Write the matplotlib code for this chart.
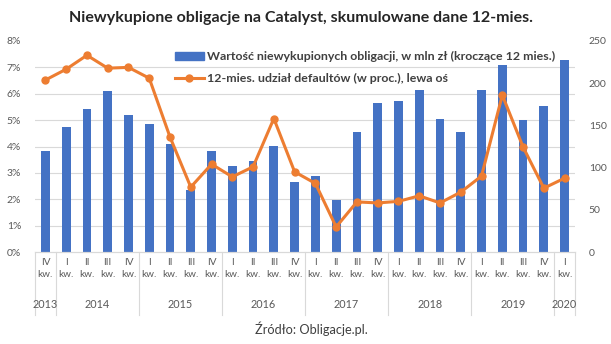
import matplotlib.pyplot as plt
import numpy as np
from matplotlib.ticker import FixedLocator, FuncFormatter
from matplotlib.lines import Line2D
from matplotlib.patches import Patch

plt.rcParams['font.family'] = ['Lato', 'DejaVu Sans']

quarters = ['IV', 'I', 'II', 'III', 'IV', 'I', 'II', 'III', 'IV', 'I', 'II', 'III', 'IV',
            'I', 'II', 'III', 'IV', 'I', 'II', 'III', 'IV', 'I', 'II', 'III', 'IV', 'I']
years = ['2013', '2014', '2015', '2016', '2017', '2018', '2019', '2020']
year_sizes = [1, 4, 4, 4, 4, 4, 4, 1]

# wartość niewykupionych obligacji, mln zł (prawa oś)
outstanding = [120, 148, 169, 191, 162, 152, 128, 74, 120, 102, 108, 126, 83,
               90, 62, 142, 177, 179, 192, 158, 142, 192, 222, 156, 173, 227]
# 12-mies. udział defaultów, % (lewa oś)
default_share = [6.52, 6.93, 7.46, 6.97, 7.0, 6.59, 4.36, 2.46, 3.33, 2.85, 3.23, 5.06, 3.04,
                 2.6, 0.95, 1.9, 1.86, 1.92, 2.13, 1.86, 2.27, 2.88, 5.95, 3.98, 2.42, 2.8]

blue = '#4472C4'
orange = '#ED7D31'
txt = '#595959'

fig = plt.figure(figsize=(6.11, 3.44), dpi=100)
W, H = 611, 344
ax = fig.add_axes([35 / W, 1 - 252 / H, 540 / W, 211 / H])
ax2 = ax.twinx()

x = np.arange(len(quarters))
ax2.bar(x, outstanding, width=0.42, color=blue, zorder=2)
ax2.set_ylim(0, 250)
ax2.set_yticks(range(0, 251, 50))
ax2.yaxis.set_minor_locator(FixedLocator(np.arange(0, 9) * 250 / 8))
ax2.grid(which='minor', color='#D9D9D9', linewidth=0.8)
ax2.set_axisbelow(True)
ax2.tick_params(axis='y', which='both', length=0, labelsize=7.5, labelcolor=txt, pad=10)

ax.plot(x, default_share, color=orange, linewidth=2.2, marker='o', markersize=5, zorder=3)
ax.set_ylim(0, 8)
ax.set_yticks(range(0, 9))
ax.yaxis.set_major_formatter(FuncFormatter(lambda v, p: f'{int(v)}%'))
ax.tick_params(axis='y', length=0, labelsize=7.5, labelcolor=txt, pad=10)
ax.set_zorder(ax2.get_zorder() + 1)
ax.patch.set_visible(False)

ax.set_xlim(-0.5, len(quarters) - 0.5)
ax.set_xticks(x)
ax.set_xticklabels([q + '\nkw.' for q in quarters], fontsize=7.2, color=txt, linespacing=1.5)
ax.tick_params(axis='x', length=0, pad=4)

for a in (ax, ax2):
    for s in ('top', 'left', 'right'):
        a.spines[s].set_visible(False)
    a.spines['bottom'].set_color('#D9D9D9')

# year labels and group separators
start = -0.5
bounds = [start]
for yr, n in zip(years, year_sizes):
    mid = start + n / 2
    ax.text(mid, -0.25, yr, transform=ax.get_xaxis_transform(), ha='center', va='center',
            fontsize=7.8, color=txt)
    start += n
    bounds.append(start)
for b in bounds:
    ax.add_line(Line2D([b, b], [0, -0.3], transform=ax.get_xaxis_transform(),
                       color='#D9D9D9', linewidth=0.8, clip_on=False))

handles = [Patch(color=blue), Line2D([], [], color=orange, linewidth=2.2, marker='o', markersize=5)]
labels = ['Wartość niewykupionych obligacji, w mln zł (kroczące 12 mies.)',
          '12-mies. udział defaultów (w proc.), lewa oś']
fig.legend(handles, labels, loc='upper left', bbox_to_anchor=(164 / W, 1 - 40 / H),
           frameon=False, labelspacing=0.9, handlelength=2.3,
           handletextpad=0.3, prop={'weight': 'bold', 'size': 8.9})
for t in fig.legends[0].get_texts():
    t.set_color('#404040')

fig.text(301 / W, 1 - 18 / H, 'Niewykupione obligacje na Catalyst, skumulowane dane 12-mies.',
         ha='center', va='center', fontsize=11.5, fontweight='bold', color='#262626')
fig.text(311 / W, 1 - 329 / H, 'Źródło: Obligacje.pl.', ha='center', va='center',
         fontsize=9.2, color='#404040')

fig.savefig('out.png', dpi=100)
